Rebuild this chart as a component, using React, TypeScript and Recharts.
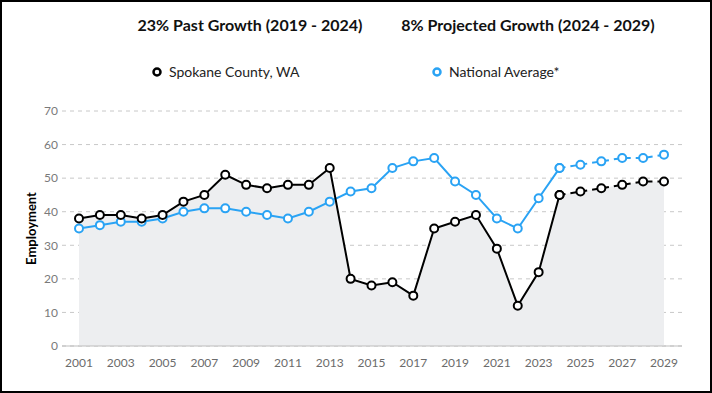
import {
  ComposedChart,
  Area,
  Line,
  XAxis,
  YAxis,
  CartesianGrid,
} from 'recharts'

const years = [
  '2001', '2002', '2003', '2004', '2005', '2006', '2007', '2008', '2009', '2010',
  '2011', '2012', '2013', '2014', '2015', '2016', '2017', '2018', '2019', '2020',
  '2021', '2022', '2023', '2024', '2025', '2026', '2027', '2028', '2029',
]

const spokane = [
  38, 39, 39, 38, 39, 43, 45, 51, 48, 47,
  48, 48, 53, 20, 18, 19, 15, 35, 37, 39,
  29, 12, 22, 45, 46, 47, 48, 49, 49,
]

const national = [
  35, 36, 37, 37, 38, 40, 41, 41, 40, 39,
  38, 40, 43, 46, 47, 53, 55, 56, 49, 45,
  38, 35, 44, 53, 54, 55, 56, 56, 57,
]

const yTicks = [0, 10, 20, 30, 40, 50, 60, 70]
const lastActual = '2024'

const BLACK = '#000000'
const BLUE = '#2aa3f4'

const cut = years.indexOf(lastActual)
const data = years.map((year, i) => ({
  year,
  area: spokane[i],
  spokane: i <= cut ? spokane[i] : null,
  spokaneProj: i >= cut ? spokane[i] : null,
  national: i <= cut ? national[i] : null,
  nationalProj: i >= cut ? national[i] : null,
}))

const dot = (color: string) => ({
  r: 4,
  stroke: color,
  strokeWidth: 2,
  fill: '#fff',
  strokeDasharray: 'none',
})

const font = 'Lato, "Open Sans", sans-serif'

function LegendItem({ color, label, x }: { color: string; label: string; x: number }) {
  return (
    <div style={{ position: 'absolute', left: x, top: 63, display: 'flex', alignItems: 'center', gap: 6 }}>
      <svg width={12} height={12}>
        <circle cx={6} cy={6} r={3.5} fill="#fff" stroke={color} strokeWidth={2.5} />
      </svg>
      <span style={{ fontSize: 14, color: '#222' }}>{label}</span>
    </div>
  )
}

export default function App() {
  return (
    <div
      style={{
        position: 'absolute',
        left: 0,
        top: 0,
        width: 712,
        height: 393,
        background: '#fff',
        fontFamily: font,
      }}
    >
      <div style={{ position: 'absolute', left: 0, top: 0 }}>
        <ComposedChart
          width={712}
          height={393}
          data={data}
          margin={{ top: 111, right: 30, bottom: 17, left: 0 }}
        >
          <CartesianGrid vertical={false} stroke="#c8c8c8" strokeDasharray="4 4" />
          <XAxis
            dataKey="year"
            interval={1}
            padding={{ left: 17, right: 18 }}
            tickLine={false}
            tickMargin={6}
            stroke="#bdbdbd"
            tick={{ fontSize: 12, fill: '#6b6b6b', fontFamily: font }}
          />
          <YAxis
            domain={[0, 70]}
            ticks={yTicks}
            width={62}
            axisLine={false}
            tickLine={false}
            tickSize={2}
            tickMargin={2}
            tick={{ fontSize: 12, fill: '#7a7a7a', fontFamily: font }}
            label={{
              value: 'Employment',
              angle: -90,
              position: 'center',
              style: { fontSize: 13, fontWeight: 700, fill: '#000', fontFamily: font },
            }}
          />
          <Area
            type="linear"
            dataKey="area"
            stroke="none"
            fill="#edeef0"
            fillOpacity={1}
            isAnimationActive={false}
          />
          <Line
            type="linear"
            dataKey="national"
            stroke={BLUE}
            strokeWidth={2}
            dot={dot(BLUE)}
            connectNulls={false}
            isAnimationActive={false}
          />
          <Line
            type="linear"
            dataKey="nationalProj"
            stroke={BLUE}
            strokeWidth={2}
            strokeDasharray="6 5"
            dot={dot(BLUE)}
            isAnimationActive={false}
          />
          <Line
            type="linear"
            dataKey="spokane"
            stroke={BLACK}
            strokeWidth={2}
            dot={dot(BLACK)}
            isAnimationActive={false}
          />
          <Line
            type="linear"
            dataKey="spokaneProj"
            stroke={BLACK}
            strokeWidth={2}
            strokeDasharray="6 5"
            dot={dot(BLACK)}
            isAnimationActive={false}
          />
        </ComposedChart>
      </div>

      <div style={{ position: 'absolute', left: 0, width: 500, top: 15, textAlign: 'center', fontSize: 16, fontWeight: 700, color: '#111' }}>
        23% Past Growth (2019 - 2024)
      </div>
      <div style={{ position: 'absolute', left: 278, width: 500, top: 15, textAlign: 'center', fontSize: 16, fontWeight: 700, color: '#111' }}>
        8% Projected Growth (2024 - 2029)
      </div>

      <LegendItem color={BLACK} label="Spokane County, WA" x={151} />
      <LegendItem color={BLUE} label="National Average*" x={431} />

      <div
        style={{
          position: 'absolute',
          inset: 0,
          border: '2px solid #000',
          pointerEvents: 'none',
        }}
      />
    </div>
  )
}
